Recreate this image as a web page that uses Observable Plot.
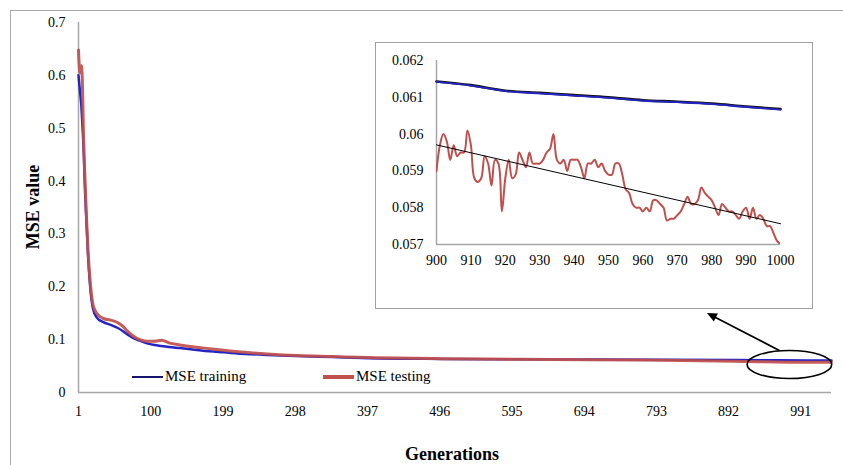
<!DOCTYPE html>
<html><head><meta charset="utf-8">
<script src="https://cdn.jsdelivr.net/npm/d3@7"></script>
<script src="https://cdn.jsdelivr.net/npm/@observablehq/plot@0.6"></script>
<style>
html,body{margin:0;padding:0;background:#fff;}
#wrap{position:relative;width:843px;height:465px;overflow:hidden;font-family:"Liberation Serif","Times New Roman",serif;color:#000;}
#frame{position:absolute;left:10px;top:10px;width:900px;height:500px;border-left:1px solid #a8a8a8;border-top:1px solid #a8a8a8;}
#main{position:absolute;left:0;top:0;}
#inset{position:absolute;left:375px;top:42px;width:436px;height:265px;border:1px solid #a0a0a0;background:#fff;}
.lbl{position:absolute;font-weight:bold;font-size:18px;white-space:nowrap;line-height:18px;}
.leg{position:absolute;font-size:15px;white-space:nowrap;line-height:16px;}
.sw{position:absolute;}
</style></head>
<body><div id="wrap"><div id="frame"></div><div id="main"></div><div id="inset"></div></div>
<script>
// ---- data ----
const genMain   = [1, 3, 5, 6, 8, 10, 12, 14, 17, 21, 26, 35, 45, 55, 62, 68, 75, 85, 95, 105, 115, 125, 140, 160, 180, 200, 230, 260, 300, 350, 400, 500, 600, 700, 800, 900, 1000, 1033];
const trainMain = [0.600, 0.570, 0.540, 0.515, 0.460, 0.380, 0.320, 0.262, 0.200, 0.158, 0.142, 0.133, 0.128, 0.122, 0.116, 0.110, 0.104, 0.098, 0.093, 0.090, 0.088, 0.086, 0.084, 0.081, 0.078, 0.076, 0.073, 0.071, 0.069, 0.067, 0.065, 0.0635, 0.0627, 0.0622, 0.0618, 0.0614, 0.0607, 0.0605];
const testMain  = [0.648, 0.605, 0.618, 0.600, 0.480, 0.400, 0.330, 0.270, 0.210, 0.165, 0.150, 0.140, 0.137, 0.132, 0.125, 0.116, 0.108, 0.100, 0.097, 0.097, 0.099, 0.094, 0.090, 0.086, 0.083, 0.080, 0.076, 0.073, 0.070, 0.068, 0.066, 0.064, 0.063, 0.062, 0.061, 0.059, 0.057, 0.057];

const genTrainInset = [900, 910, 920, 930, 940, 950, 960, 970, 980, 990, 1000];
const trainInset    = [0.06143, 0.06133, 0.06118, 0.06112, 0.06106, 0.06100, 0.06092, 0.06088, 0.06083, 0.06075, 0.06068];

const genTestInset = d3.range(900, 1001);
const testInset = [
  0.0590, 0.0597, 0.0600, 0.0598, 0.0593, 0.0597, 0.0594, 0.0595, 0.0595, 0.0601,
  0.0597, 0.0588, 0.0587, 0.0588, 0.0594, 0.0592, 0.0586, 0.0593, 0.0592, 0.0579,
  0.0588, 0.0593, 0.0588, 0.0589, 0.0595, 0.0593, 0.0591, 0.0595, 0.0592, 0.0592,
  0.0592, 0.0593, 0.0595, 0.0596, 0.0600, 0.0593, 0.0592, 0.0593, 0.0590, 0.0593,
  0.0593, 0.0593, 0.0591, 0.0588, 0.0592, 0.0592, 0.0593, 0.0591, 0.0592, 0.0590,
  0.0589, 0.0589, 0.0592, 0.0592, 0.0589, 0.0585, 0.0584, 0.0581, 0.0580, 0.0580,
  0.0579, 0.0580, 0.0579, 0.0582, 0.0582, 0.0581, 0.0580, 0.05765, 0.0577, 0.0577,
  0.0578, 0.0579, 0.0581, 0.0583, 0.0581, 0.0581, 0.0582, 0.05855, 0.0584, 0.0583,
  0.0582, 0.0580, 0.0578, 0.0581, 0.0580, 0.0579, 0.0579, 0.0578, 0.0577, 0.0579,
  0.0580, 0.0577, 0.0580, 0.0577, 0.0578, 0.0577, 0.0575, 0.0575, 0.0573, 0.0571,
  0.0570
];

const xTicksMain = [1, 100, 199, 298, 397, 496, 595, 694, 793, 892, 991];
const yTicksMain = [0, 0.1, 0.2, 0.3, 0.4, 0.5, 0.6, 0.7];
const xTicksInset = [900, 910, 920, 930, 940, 950, 960, 970, 980, 990, 1000];
const yTicksInset = [0.057, 0.058, 0.059, 0.060, 0.061, 0.062];
const seriesNames = ["MSE training", "MSE testing"];

// ---- styles ----
const BLUE = "#2424c4", BLUE_LEG = "#15156a", RED = "#c0504d", AXIS = "#a6a6a6";

const mainRows = genMain.map((g, i) => ({gen: g, train: trainMain[i], test: testMain[i]}));
const trainRows = genTrainInset.map((g, i) => ({gen: g, v: trainInset[i]}));
const testRows = genTestInset.map((g, i) => ({gen: g, v: testInset[i]}));

const fmt = d => String(+d.toFixed(3));

const main = Plot.plot({
  width: 843, height: 465,
  marginLeft: 78, marginRight: 12, marginTop: 22, marginBottom: 73,
  style: {fontFamily: "Liberation Serif, Times New Roman, serif", fontSize: "14px", background: "transparent", color: "#000"},
  x: {domain: [1, 1033], ticks: xTicksMain, tickSize: 0, tickPadding: 14, tickFormat: d => String(d), label: null},
  y: {domain: [0, 0.7], ticks: yTicksMain, tickSize: 0, tickPadding: 13, tickFormat: fmt, label: null},
  marks: [
    Plot.ruleY([yTicksMain[0]], {stroke: AXIS, strokeWidth: 1.5}),
    Plot.ruleX([genMain[0]], {stroke: AXIS, strokeWidth: 1.5}),
    Plot.line(mainRows, {x: "gen", y: "train", stroke: BLUE, strokeWidth: 2.5, curve: "monotone-x"}),
    Plot.line(mainRows, {x: "gen", y: "test", stroke: RED, strokeWidth: 3, curve: "monotone-x", strokeOpacity: 0.92})
  ]
});
document.getElementById("main").appendChild(main);

// ellipse + arrow annotation, positioned through the main scales
const xs = main.scale("x"), ys = main.scale("y");
const ELL_GEN = 976, ELL_VAL = 0.052, ELL_GEN_END = 1034, ELL_VAL_HALF = 0.0265;
const cx = xs.apply(ELL_GEN), cy = ys.apply(ELL_VAL);
const rx = xs.apply(ELL_GEN_END) - cx, ry = ys.apply(ELL_VAL - ELL_VAL_HALF) - cy;
const svg = d3.select(main);
svg.append("ellipse").attr("cx", cx).attr("cy", cy).attr("rx", rx).attr("ry", ry)
  .attr("fill", "none").attr("stroke", "#000").attr("stroke-width", 1.6);
const ax0 = cx - 10, ay0 = cy - ry;
const ax1 = 707, ay1 = 42 + 267 + 4;
const dx = ax1 - ax0, dy = ay1 - ay0, L = Math.hypot(dx, dy), ux = dx / L, uy = dy / L;
const hl = 10, hw = 4.5;
const bx = ax1 - ux * hl, by = ay1 - uy * hl;
svg.append("line").attr("x1", ax0).attr("y1", ay0).attr("x2", bx + ux * 2).attr("y2", by + uy * 2)
  .attr("stroke", "#000").attr("stroke-width", 1.6);
svg.append("path").attr("d", `M${ax1},${ay1}L${bx - uy * hw},${by + ux * hw}L${bx + uy * hw},${by - ux * hw}Z`).attr("fill", "#000");

// inset
const inset = Plot.plot({
  width: 436, height: 265,
  marginLeft: 60, marginRight: 32, marginTop: 17, marginBottom: 64,
  style: {fontFamily: "Liberation Serif, Times New Roman, serif", fontSize: "14px", background: "transparent", color: "#000"},
  x: {domain: [900, 1000], ticks: xTicksInset, tickSize: 0, tickPadding: 11, tickFormat: d => String(d), label: null},
  y: {domain: [0.057, 0.062], ticks: yTicksInset, tickSize: 0, tickPadding: 13, tickFormat: fmt, label: null},
  marks: [
    Plot.ruleY([yTicksInset[0]], {stroke: AXIS, strokeWidth: 1.5}),
    Plot.ruleX([xTicksInset[0]], {stroke: AXIS, strokeWidth: 1.5}),
    Plot.line(trainRows, {x: "gen", y: "v", stroke: "#111", strokeWidth: 2.6, curve: "monotone-x"}),
    Plot.line(trainRows, {x: "gen", y: "v", stroke: BLUE, strokeWidth: 1.8, curve: "monotone-x", dy: 0.5}),
    Plot.line(testRows, {x: "gen", y: "v", stroke: RED, strokeWidth: 2, curve: "catmull-rom", clip: true}),
    Plot.linearRegressionY(testRows, {x: "gen", y: "v", stroke: "#000", strokeWidth: 1, ci: 0})
  ]
});
document.getElementById("inset").appendChild(inset);

// axis titles and legend
const wrap = document.getElementById("wrap");
function addDiv(cls, text, css) {
  const d = document.createElement("div");
  d.className = cls; d.textContent = text; Object.assign(d.style, css); wrap.appendChild(d); return d;
}
addDiv("lbl", "MSE value", {left: "33px", top: "207px", transform: "translate(-50%,-50%) rotate(-90deg)"});
addDiv("lbl", "Generations", {left: "452px", top: "445px", transform: "translateX(-50%)"});

const legItems = [
  {name: seriesNames[0], color: BLUE_LEG, w: 2.5, x: 132},
  {name: seriesNames[1], color: RED, w: 3.5, x: 323}
];
legItems.forEach(it => {
  addDiv("sw", "", {left: it.x + "px", top: (377 - it.w / 2) + "px", width: "31px", height: it.w + "px", background: it.color});
  addDiv("leg", it.name, {left: (it.x + 33) + "px", top: "368px"});
});
</script>
</body></html>
